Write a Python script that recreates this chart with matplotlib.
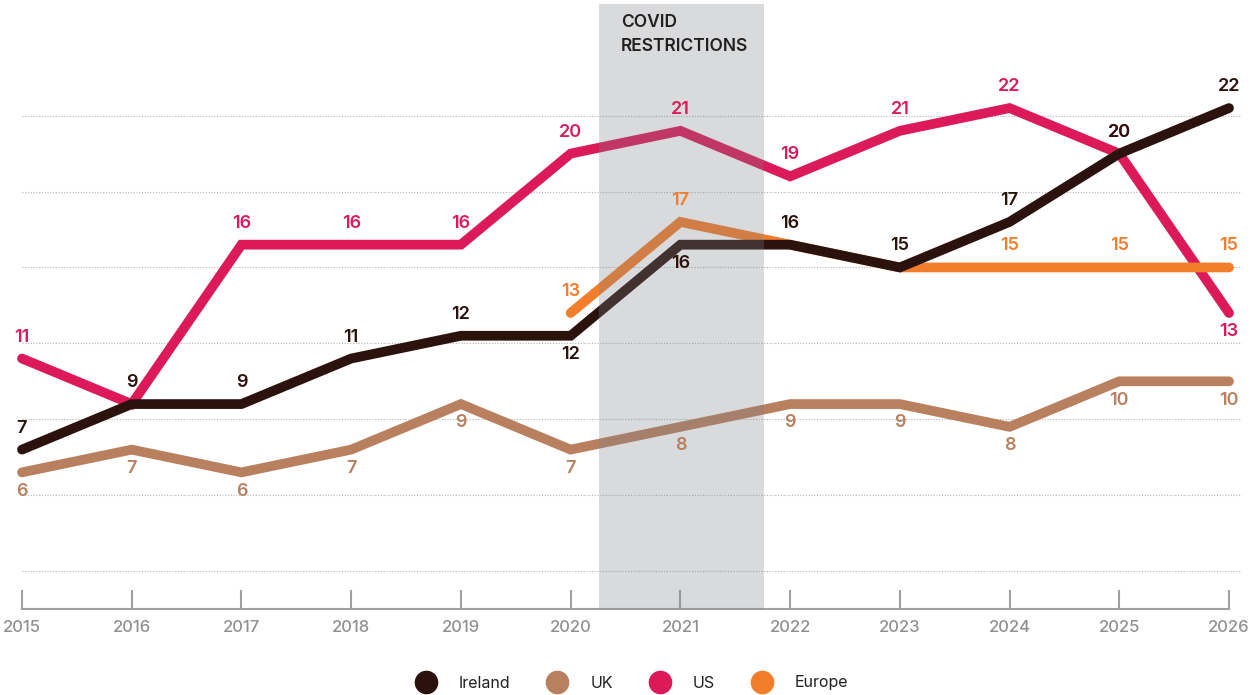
import matplotlib.pyplot as plt
from matplotlib.lines import Line2D

years = list(range(2015, 2027))
ireland = [7, 9, 9, 11, 12, 12, 16, 16, 15, 17, 20, 22]
uk = [6, 7, 6, 7, 9, 7, 8, 9, 9, 8, 10, 10]
us = [11, 9, 16, 16, 16, 20, 21, 19, 21, 22, 20, 13]
europe = [None, None, None, None, None, 13, 17, 16, 15, 15, 15, 15]
covid_span = (2020.26, 2021.76)
grid_values = [5 / 3 + 10 / 3 * k for k in range(7)]

# which labels to show, and on which side of the point
ireland_lbl = ["up"] * 5 + ["down", "down"] + ["up"] * 5
us_lbl = ["up", None] + ["up"] * 9 + ["down"]
uk_lbl = ["down"] * 12
europe_lbl = [None] * 5 + ["up", "up", None, None, "up", "up", "up"]

C_IRL = "#2b120c"
C_UK = "#b8805f"
C_US = "#dc1a5a"
C_EU = "#f27d2b"
C_GRAY = "#909090"

plt.rcParams["font.family"] = ["Inter", "DejaVu Sans"]

fig = plt.figure(figsize=(12.6, 6.95), dpi=100)
ax = fig.add_axes([0, 0, 1, 1])
ax.set_xlim(2015 - 22 / 109.73, 2015 + 1238 / 109.73)
ax.set_ylim(-86 / 22.77, 609 / 22.77)

for s in ["top", "right", "left"]:
    ax.spines[s].set_visible(False)
ax.spines["bottom"].set_position(("data", 0))
ax.spines["bottom"].set_bounds(2015, 2026)
ax.spines["bottom"].set_color("#a0a0a0")
ax.spines["bottom"].set_linewidth(1.5)
ax.set_yticks([])
ax.set_xticks(years)
ax.set_xticklabels([str(y) for y in years])
ax.tick_params(axis="x", direction="in", length=14, width=1.5, color="#a0a0a0",
               pad=8, labelsize=12, labelcolor=C_GRAY)
for t in ax.get_xticklabels():
    t.set_fontweight("medium")

ax.hlines(grid_values, 2015, 2026.1, colors="#b5b5b5", linewidth=0.8,
          linestyles=(0, (1, 1.5)), zorder=1)

series = [
    (uk, C_UK, uk_lbl, 2),
    (us, C_US, us_lbl, 3),
    (europe, C_EU, europe_lbl, 3.5),
    (ireland, C_IRL, ireland_lbl, 4),
]
for vals, col, lbls, z in series:
    xs = [x for x, v in zip(years, vals) if v is not None]
    ys = [v for v in vals if v is not None]
    ax.plot(xs, ys, color=col, linewidth=7, solid_capstyle="round",
            solid_joinstyle="miter", zorder=z)
    for x, v, side in zip(years, vals, lbls):
        if v is None or side is None:
            continue
        dy = 15.5 if side == "up" else -13.5
        ax.annotate(str(v), (x, v), xytext=(0, dy), textcoords="offset points",
                    ha="center", va="center", fontsize=13, fontweight="semibold",
                    color=col, zorder=6)

# covid band sits over the lines and darkens them
ax.fill_between(covid_span, 0, 26.57, color="#7d8185", alpha=0.29, linewidth=0, zorder=5)
ax.text(covid_span[0] + 22 / 109.73, 26.15, "COVID\nRESTRICTIONS", ha="left", va="top",
        fontsize=12.5, fontweight="semibold", color="#231f20", linespacing=1.55, zorder=6)

handles = [Line2D([], [], marker="o", linestyle="none", markersize=16, color=c)
           for c in [C_IRL, C_UK, C_US, C_EU]]
fig.legend(handles, ["Ireland", "UK", "US", "Europe"], loc="center",
           bbox_to_anchor=(631 / 1260, 12 / 695), ncol=4, frameon=False,
           fontsize=11.5, handlelength=1.5, handletextpad=1.3, columnspacing=2.2,
           labelcolor="#231f20")

fig.savefig("out.png", dpi=100)
